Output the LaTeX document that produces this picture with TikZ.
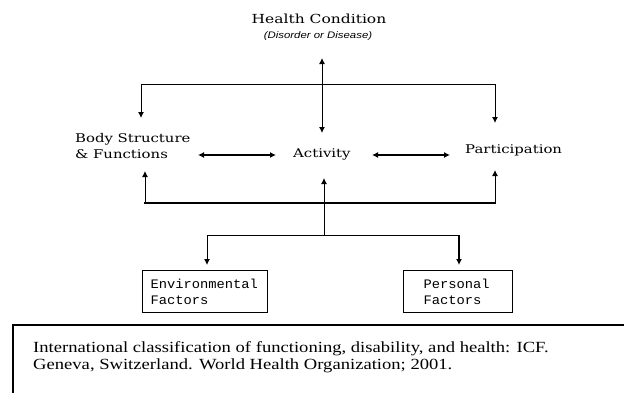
\documentclass[tikz,border=0pt]{standalone}
\usepackage{fontspec}
\setmainfont[FakeStretch=1.2]{Liberation Serif}
\newfontfamily\slab[FakeStretch=1.24]{DejaVu Serif}
\newfontfamily\mono[FakeStretch=1.06]{Liberation Mono}
\newfontfamily\helv[FakeStretch=1.2]{Liberation Sans}
\usetikzlibrary{arrows.meta}
\begin{document}
\begin{tikzpicture}[x=1pt,y=-1pt,
  lbl/.style={font=\slab\fontsize{12}{16.5}\selectfont, inner sep=0pt, align=left},
  conn/.style={line width=1pt, draw=black},
  heavy/.style={line width=2pt, draw=black},
  tipend/.style={-{Latex[length=6pt,width=6pt]}},
  tipboth/.style={{Latex[length=6pt,width=6pt]}-{Latex[length=6pt,width=6pt]}},
  factorbox/.style={draw=black, line width=1pt, anchor=north west, align=left,
    font=\mono\fontsize{13}{16}\selectfont, minimum height=42pt, inner ysep=0pt}]
\useasboundingbox (0,0) rectangle (624,392);
\fill[white] (0,0) rectangle (624,392);

% labels
\node[lbl, font=\slab\fontsize{12.5}{16}\selectfont, anchor=base] (hc) at (319,23) {Health Condition};
\node[inner sep=0pt, anchor=base, font=\helv\itshape\fontsize{9.5}{11}\selectfont] (dis) at (318,38) {(Disorder or Disease)};
\node[lbl, anchor=west] (body) at (75,146) {Body Structure\\\& Functions};
\node[lbl, anchor=base west] (act) at (293,157) {Activity};
\node[lbl, anchor=base west] (part) at (465,153) {Participation};

\node[factorbox, text width=109pt, inner xsep=8pt] (env) at (142,270) {Environmental\\Factors};
\node[factorbox, text width=69pt, inner xsep=20pt] (pers) at (403,270) {Personal\\Factors};

% coordinates for connector ends
\coordinate (hcTip) at (322,58);
\coordinate (actTop) at (322,133);
\coordinate (hub1) at (322,84);
\coordinate (bodyTop) at (141,118);
\coordinate (partTop) at (495,123);
\coordinate (bodyR) at (198,155);
\coordinate (actL) at (276,155);
\coordinate (actR) at (372,155);
\coordinate (partL) at (450,155);
\coordinate (bodyBot) at (145,171);
\coordinate (actBot) at (324,178);
\coordinate (partBot) at (495,170);
\coordinate (bl) at (145,203);
\coordinate (br) at (495,203);
\coordinate (hub2) at (324,235);
\coordinate (envTop) at (207,265);
\coordinate (persTop) at (459,265);

% connectors
\draw[conn, tipboth] (hcTip) -- (actTop);
\draw[conn, tipend] (hub1) -| (bodyTop);
\draw[conn, tipend] (hub1) -| (partTop);
\draw[heavy, tipboth] (bodyR) -- (actL);
\draw[heavy, tipboth] (actR) -- (partL);
\draw[heavy] ([xshift=-1pt]bl) -- ([xshift=1pt]br);
\draw[conn, tipend] (bl) -- (bodyBot);
\draw[conn, tipend] (br) -- (partBot);
\draw[conn, tipend] (hub2) -- (actBot);
\draw[conn, tipend] (hub2) -| (envTop);
\draw[conn] (hub2) -- (persTop |- hub2);
\draw[heavy, tipend] (persTop |- hub2) -- (persTop);

% reference box
\draw[heavy] (13,400) |- (630,325);
\node[inner sep=0pt, anchor=north west, align=left, font=\fontsize{15.5}{17}\selectfont] (ref) at (33,341)
  {International classification of functioning, disability, and health: ICF.\\Geneva, Switzerland. World Health Organization; 2001.};
\end{tikzpicture}
\end{document}
